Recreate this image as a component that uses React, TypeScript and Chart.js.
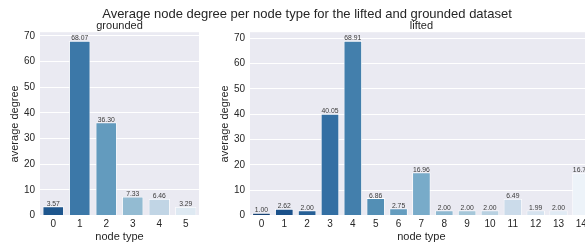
import React, { useEffect, useRef } from "react";
import { Chart, registerables } from "chart.js";

Chart.register(...registerables);

// ---- data ----
const groundedTypes = ["0", "1", "2", "3", "4", "5"];
const groundedDegree = [3.57, 68.07, 36.3, 7.33, 6.46, 3.29];

const liftedTypes = ["0", "1", "2", "3", "4", "5", "6", "7", "8", "9", "10", "11", "12", "13", "14"];
const liftedDegree = [1.0, 2.62, 2.0, 40.05, 68.91, 6.86, 2.75, 16.96, 2.0, 2.0, 2.0, 6.49, 1.99, 2.0, 16.75];

const mainTitle = "Average node degree per node type for the lifted and grounded dataset";
const groundedTitle = "grounded";
const liftedTitle = "lifted";
const xTitle = "node type";
const yTitle = "average degree";

// ---- palette (seaborn Blues_r, saturation 0.75) ----
const BLUES = ["#f7fbff", "#deebf7", "#c6dbef", "#9ecae1", "#6baed6", "#4292c6", "#2171b5", "#08519c", "#08306b"];
function hex2rgb(h: string) {
  return [parseInt(h.slice(1, 3), 16), parseInt(h.slice(3, 5), 16), parseInt(h.slice(5, 7), 16)];
}
function blues(t: number) {
  const x = t * 8;
  const i = Math.min(7, Math.floor(x));
  const f = x - i;
  const a = hex2rgb(BLUES[i]);
  const b = hex2rgb(BLUES[i + 1]);
  return a.map((v, k) => (v + (b[k] - v) * f) / 255);
}
function desat(rgb: number[], s: number) {
  const [r, g, b] = rgb;
  const mx = Math.max(r, g, b), mn = Math.min(r, g, b);
  const l = (mx + mn) / 2;
  if (mx === mn) return rgb;
  const d = mx - mn;
  let sat = l > 0.5 ? d / (2 - mx - mn) : d / (mx + mn);
  let h: number;
  if (mx === r) h = ((g - b) / d + (g < b ? 6 : 0)) / 6;
  else if (mx === g) h = ((b - r) / d + 2) / 6;
  else h = ((r - g) / d + 4) / 6;
  sat *= s;
  const q = l < 0.5 ? l * (1 + sat) : l + sat - l * sat;
  const p = 2 * l - q;
  const hue = (t: number) => {
    if (t < 0) t += 1;
    if (t > 1) t -= 1;
    if (t < 1 / 6) return p + (q - p) * 6 * t;
    if (t < 1 / 2) return q;
    if (t < 2 / 3) return p + (q - p) * (2 / 3 - t) * 6;
    return p;
  };
  return [hue(h + 1 / 3), hue(h), hue(h - 1 / 3)];
}
function paletteBluesR(n: number) {
  return Array.from({ length: n }, (_, i) => {
    const c = desat(blues(1 - (i + 1) / (n + 1)), 0.75);
    return `rgb(${c.map((v) => Math.round(v * 255)).join(",")})`;
  });
}

const FONT = "'Liberation Sans', Arial, sans-serif";
const TEXT = "#262626";

const bgPlugin = {
  id: "plotBg",
  beforeDraw(chart: any) {
    const { ctx, chartArea } = chart;
    ctx.save();
    ctx.fillStyle = "#EAEAF2";
    ctx.fillRect(chartArea.left, chartArea.top, chartArea.right - chartArea.left, chartArea.bottom - chartArea.top);
    ctx.restore();
  },
};

const labelPlugin = {
  id: "barValues",
  afterDatasetsDraw(chart: any) {
    const { ctx } = chart;
    const meta = chart.getDatasetMeta(0);
    const vals = chart.data.datasets[0].data as number[];
    ctx.save();
    ctx.font = `6.8px ${FONT}`;
    ctx.fillStyle = "#3a3a3a";
    ctx.textAlign = "center";
    ctx.textBaseline = "alphabetic";
    meta.data.forEach((bar: any, i: number) => {
      ctx.fillText(vals[i].toFixed(2), bar.x, bar.y - 0.6);
    });
    ctx.restore();
  },
};

function makeConfig(
  labels: string[],
  values: number[],
  title: string,
  yWidth: number,
  yTitlePad: number,
  padRight: number
): any {
  return {
    type: "bar",
    data: {
      labels,
      datasets: [
        {
          data: values,
          backgroundColor: paletteBluesR(labels.length),
          borderColor: "#ffffff",
          borderWidth: 0.8,
          categoryPercentage: 1,
          barPercentage: 0.8,
        },
      ],
    },
    options: {
      responsive: false,
      animation: false,
      devicePixelRatio: 1,
      layout: { padding: { left: 0, right: padRight, top: 0, bottom: 0 } },
      plugins: {
        legend: { display: false },
        tooltip: { enabled: false },
        title: {
          display: true,
          text: title,
          fullSize: false,
          color: TEXT,
          font: { family: FONT, size: 11, weight: "normal" },
          padding: { top: 19, bottom: 0 },
        },
      },
      scales: {
        x: {
          grid: { display: false, drawTicks: false },
          border: { display: false },
          ticks: { color: TEXT, font: { family: FONT, size: 10 }, padding: 3, maxRotation: 0, autoSkip: false },
          title: {
            display: true,
            text: xTitle,
            color: TEXT,
            font: { family: FONT, size: 11 },
            padding: { top: 0, bottom: 1 },
          },
          afterFit(scale: any) {
            scale.height = 29.5;
          },
        },
        y: {
          min: 0,
          max: Math.max(...values) * 1.05,
          grid: { color: "#ffffff", lineWidth: 1, drawTicks: false },
          border: { display: false },
          ticks: { stepSize: 10, includeBounds: false, color: TEXT, font: { family: FONT, size: 10 }, padding: 5 },
          title: {
            display: true,
            text: yTitle,
            color: TEXT,
            font: { family: FONT, size: 11 },
            padding: { top: yTitlePad, bottom: 0 },
          },
          afterFit(scale: any) {
            scale.width = yWidth;
          },
        },
      },
    },
    plugins: [bgPlugin, labelPlugin],
  };
}

export default function App() {
  const leftRef = useRef<HTMLCanvasElement>(null);
  const rightRef = useRef<HTMLCanvasElement>(null);

  useEffect(() => {
    const c1 = new Chart(leftRef.current!, makeConfig(groundedTypes, groundedDegree, groundedTitle, 40, 8, 6));
    const c2 = new Chart(rightRef.current!, makeConfig(liftedTypes, liftedDegree, liftedTitle, 45, 13, 12.2));
    return () => {
      c1.destroy();
      c2.destroy();
    };
  }, []);

  return (
    <div
      style={{
        position: "fixed",
        left: 0,
        top: 0,
        width: 585,
        height: 245,
        overflow: "hidden",
        background: "#ffffff",
      }}
    >
      <canvas ref={leftRef} width={205} height={245} style={{ position: "absolute", left: 0, top: 0, width: 205, height: 245 }} />
      <canvas ref={rightRef} width={400} height={245} style={{ position: "absolute", left: 205, top: 0, width: 400, height: 245 }} />
      <div
        style={{
          position: "absolute",
          left: 0,
          top: 6,
          width: 614,
          textAlign: "center",
          whiteSpace: "nowrap",
          fontFamily: FONT,
          fontSize: 13,
          lineHeight: "15px",
          color: TEXT,
        }}
      >
        {mainTitle}
      </div>
    </div>
  );
}
